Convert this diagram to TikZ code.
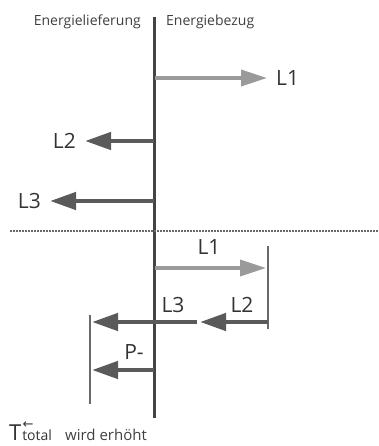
\documentclass[tikz,border=0pt]{standalone}
\usepackage{fontspec}
\setmainfont{Open Sans}
\newfontfamily\pfeilfont{DejaVu Sans}
\usepackage{tikz}
\usetikzlibrary{positioning}
\usetikzlibrary{arrows.meta}

\definecolor{axisgray}{HTML}{444444}
\definecolor{bezuggray}{HTML}{9A9A9A}
\definecolor{liefergray}{HTML}{5A5A5A}
\definecolor{thingray}{HTML}{6A6A6A}

\tikzset{
  bezug/.style={line width=3.5pt, bezuggray, -{Triangle[length=26pt,width=16pt]}},
  liefer/.style={line width=4.5pt, liefergray, -{Triangle[length=26pt,width=17pt]}},
  lbl/.style={inner sep=0pt, text=black!80, font=\fontsize{21}{21}\selectfont},
  side/.style={inner sep=0pt, text=black!75, font=\fontsize{14}{15}\selectfont},
  grenze/.style={thingray, line width=1.5pt},
}

\begin{document}
\begin{tikzpicture}[x=1pt,y=-1pt]
\useasboundingbox (0,0) rectangle (378,446);
% Achse
\coordinate (top) at (154,17);
\coordinate (bot) at (154,418);
\draw[axisgray, line width=3pt] (top) -- (bot);
\node[side, anchor=base east] (lief) at (141,26) {Energielieferung};
\node[side, anchor=base west] (bez) at (166,26) {Energiebezug};

% einzelne Lasten
\coordinate (a1) at (155,78);
\coordinate (t1) at (267,78);
\draw[bezug] (a1) -- (t1);
\node[lbl, right=9pt of t1] (l1) {L1};
\coordinate (a2) at (154,141);
\coordinate (t2) at (85,141);
\draw[liefer] (a2) -- (t2);
\node[lbl, left=9pt of t2] (l2) {L2};
\coordinate (a3) at (154,201);
\coordinate (t3) at (50,201);
\draw[liefer] (a3) -- (t3);
\node[lbl, left=9pt of t3] (l3) {L3};

\coordinate (dl) at (10,231);
\coordinate (dr) at (378,231);
\draw[thingray, line width=1.6pt, dash pattern=on 1.6pt off 1.4pt] (dl) -- (dr);

% Summe
\coordinate (g1o) at (268,246);
\coordinate (g1u) at (268,329);
\draw[grenze] (g1o) -- (g1u);
\coordinate (b1) at (155,268);
\coordinate (s1) at (266,268);
\draw[bezug] (b1) -- (s1);
\node[lbl] (m1) at (209,247) {L1};
\coordinate (b2) at (268,322);
\coordinate (s2) at (200,322);
\draw[liefer] (b2) -- (s2);
\node[lbl] (m2) at (242,305) {L2};
\coordinate (b3) at (197,322);
\coordinate (s3) at (92,322);
\draw[liefer] (b3) -- (s3);
\node[lbl] (m3) at (173,305) {L3};
\coordinate (g2o) at (90,315);
\coordinate (g2u) at (90,404);
\draw[grenze] (g2o) -- (g2u);
\coordinate (bp) at (154,370);
\coordinate (sp) at (92,370);
\draw[liefer] (bp) -- (sp);
\node[lbl] (mp) at (134,352) {P-};

% Text unten
\node[inner sep=0pt, anchor=base west, text=black!80, font=\fontsize{22}{22}\selectfont] (tt) at (9,440) {T};
\node[inner sep=0pt, anchor=base west, text=black!80, font=\fontsize{14}{14}\selectfont] (tsub) at ([xshift=0.5pt]tt.base east) {total};
\node[inner sep=0pt, anchor=south, text=black!80, font=\pfeilfont\fontsize{13}{13}\selectfont] (tarr) at ([xshift=6pt,yshift=0.5pt]tsub.north west) {←};
\node[side, anchor=base west, font=\fontsize{15}{15}\selectfont] (erh) at (65,440) {wird erhöht};
\end{tikzpicture}
\end{document}
